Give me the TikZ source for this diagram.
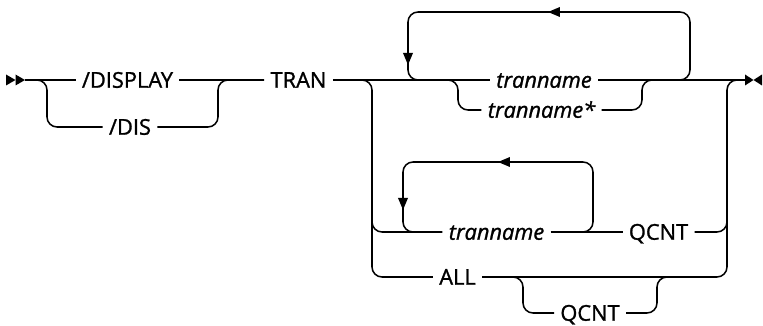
\documentclass[tikz,border=0pt]{standalone}
\usepackage{fontspec}
\setmainfont{Open Sans}
\newfontfamily\railfont{Open Sans}[FakeBold=1.2]
\usetikzlibrary{arrows.meta}
\usetikzlibrary{decorations.markings}
\tikzset{rr/.style = {rounded corners=0.25cm}}
\tikzset{kw/.style = {inner xsep=4pt, inner ysep=0pt, text height=11pt,
                      text depth=0pt, font=\railfont\fontsize{15.5}{17}\selectfont}}
\tikzset{var/.style = {kw, font=\railfont\fontsize{15.5}{17}\selectfont\itshape}}
\tikzset{loopmarks/.style 2 args = {decoration={markings,
    mark=at position #1 with {\arrow{Triangle[length=0.3cm,width=0.24cm]}},
    mark=at position #2 with {\arrow{Triangle[length=0.3cm,width=0.24cm]}}},
                      postaction={decorate}}}
\tikzset{
  every picture/.style={
    every path/.style={line width=1.1pt},
  }
}
\begin{document}
\begin{tikzpicture}[x=0.025cm, y=-0.025cm]
      \useasboundingbox (0,0) rectangle (763,326);
      % keywords and variables
      \node[kw] (display) at (127.5,80) {/DISPLAY};
      \node[kw] (dis) at (130,127) {/DIS};
      \node[kw] (tran) at (298.5,80) {TRAN};
      \node[var] (tn) at (544,80) {tranname};
      \node[var] (tnstar) at (541.5,110) {tranname*};
      \node[var] (tnq) at (496.5,232) {tranname};
      \node[kw] (qcnt) at (658.5,232) {QCNT};
      \node[kw] (all) at (457.5,277) {ALL};
      \node[kw] (qcntall) at (590,313) {QCNT};
      % junctions
      \coordinate (st) at (25,80);
      \coordinate (en) at (745,80);
      \coordinate (d1) at (47,127);
      \coordinate (d2) at (218,80);
      \coordinate (s0) at (445,80);
      \coordinate (s1) at (458,110);
      \coordinate (s2) at (642,80);
      \coordinate (s3) at (655,80);
      \coordinate (b0) at (360,80);
      \coordinate (b1) at (372,277);
      \coordinate (b2) at (372,215);
      \coordinate (r0) at (727,80);
      \coordinate (r1) at (727,215);
      \coordinate (q0) at (510,277);
      \coordinate (q1) at (523,313);
      \coordinate (q2) at (657,277);
      \coordinate (q3) at (670,277);
      % start and end marks
      \fill (6,74.5) -- (15.5,80) -- (6,85.5) -- cycle;
      \fill (15.5,74.5) -- (25,80) -- (15.5,85.5) -- cycle;
      \fill (745,74.5) -- (753.5,80) -- (745,85.5) -- cycle;
      \fill (762,74.5) -- (753.5,80) -- (762,85.5) -- cycle;
      % main rail
      \draw (st) -- (display.west);
      \draw (display.east) -- (tran.west);
      \draw (tran.east) -- (tn.west);
      \draw (tn.east) -- (en);
      \draw[rr] (st) -| (d1) -- (dis.west);
      \draw[rr] (dis.east) -| (d2) -- (tran.west);
      % repeat loops
      \draw[rr, loopmarks={5.385cm}{10.1cm}]
        (676,80) -| (690,12) -- (408,12) |- (420,80);
      \draw[rr] (s0) -| (s1) -- (tnstar.west);
      \draw[rr] (tnstar.east) -| (s2) -- (s3);
      \draw[rr] (b0) -| (b1) -- (all.west);
      \draw[rr] (b2) |- (tnq.west);
      \draw[rr, loopmarks={4.235cm}{7.70cm}]
        (580,232) -| (593,162) -- (403,162) |- (416,232);
      \draw (tnq.east) -- (qcnt.west);
      \draw[rr] (qcnt.east) -| (r1);
      \draw[rr] (all.east) -| (r0) -- (en);
      \draw[rr] (q0) -| (q1) -- (qcntall.west);
      \draw[rr] (qcntall.east) -| (q2) -- (q3);
    \end{tikzpicture}
\end{document}
